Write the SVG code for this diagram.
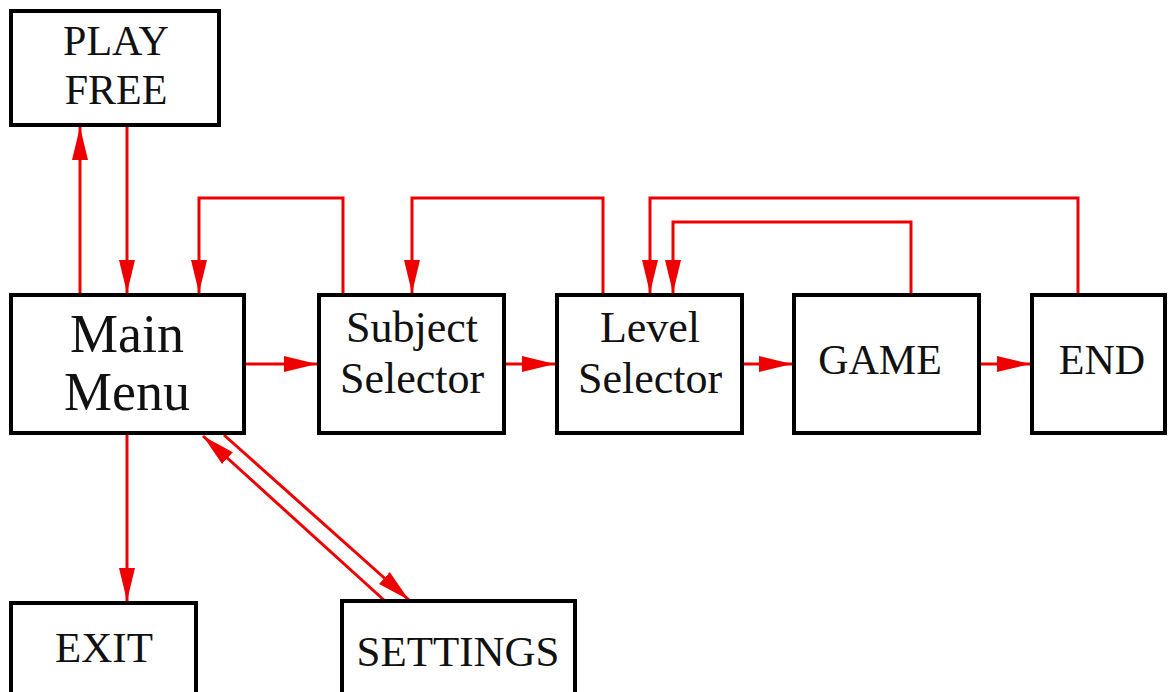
<svg xmlns="http://www.w3.org/2000/svg" width="1169" height="692" viewBox="0 0 1169 692">
<defs>
<marker id="ah" markerUnits="userSpaceOnUse" markerWidth="34" markerHeight="18" refX="33" refY="9" orient="auto">
<path d="M0,1 L33,9 L0,17 z" fill="#ee0000"/>
</marker>
<style>
.box{fill:#fff;stroke:#000;stroke-width:4}
.t{fill:#111;text-anchor:middle;font-family:"Liberation Serif","Times New Roman","DejaVu Serif",serif}
.c{fill:none;stroke:#ee0000;stroke-width:3;marker-end:url(#ah)}
</style>
</defs>
<rect width="1169" height="692" fill="#fff"/>
<g id="connectors">
<path class="c" d="M80,293 V127"/>
<path class="c" d="M127,127 V293"/>
<path class="c" d="M343,293 V198 H199 V293"/>
<path class="c" d="M603,293 V198 H412 V293"/>
<path class="c" d="M1078,293 V198 H650 V293"/>
<path class="c" d="M911,293 V222 H673 V293"/>
<path class="c" d="M245,364 H317"/>
<path class="c" d="M505,364 H555"/>
<path class="c" d="M743,364 H792"/>
<path class="c" d="M980,364 H1030"/>
<path class="c" d="M127,434 V601"/>
<path class="c" d="M385,601 L203,436"/>
<path class="c" d="M224,435 L409,600"/>
</g>
<g id="play-free"><rect class="box" x="11" y="11" width="208" height="114"/><text class="t" x="116" y="55" font-size="42">PLAY</text><text class="t" x="116" y="104" font-size="42">FREE</text></g>
<g id="main-menu"><rect class="box" x="11" y="295" width="233" height="138"/><text class="t" x="127" y="352" font-size="54">Main</text><text class="t" x="127" y="410" font-size="54">Menu</text></g>
<g id="subject-selector"><rect class="box" x="319" y="295" width="185" height="138"/><text class="t" x="412" y="342" font-size="44">Subject</text><text class="t" x="412" y="393" font-size="44">Selector</text></g>
<g id="level-selector"><rect class="box" x="557" y="295" width="185" height="138"/><text class="t" x="650" y="342" font-size="44">Level</text><text class="t" x="650" y="393" font-size="44">Selector</text></g>
<g id="game"><rect class="box" x="794" y="295" width="185" height="138"/><text class="t" x="880" y="374" font-size="42">GAME</text></g>
<g id="end"><rect class="box" x="1032" y="295" width="133" height="138"/><text class="t" x="1102" y="374" font-size="42">END</text></g>
<g id="exit"><rect class="box" x="11" y="603" width="185" height="100"/><text class="t" x="104" y="662" font-size="43">EXIT</text></g>
<g id="settings"><rect class="box" x="342" y="601" width="233" height="100"/><text class="t" x="458" y="666" font-size="43">SETTINGS</text></g>
</svg>
